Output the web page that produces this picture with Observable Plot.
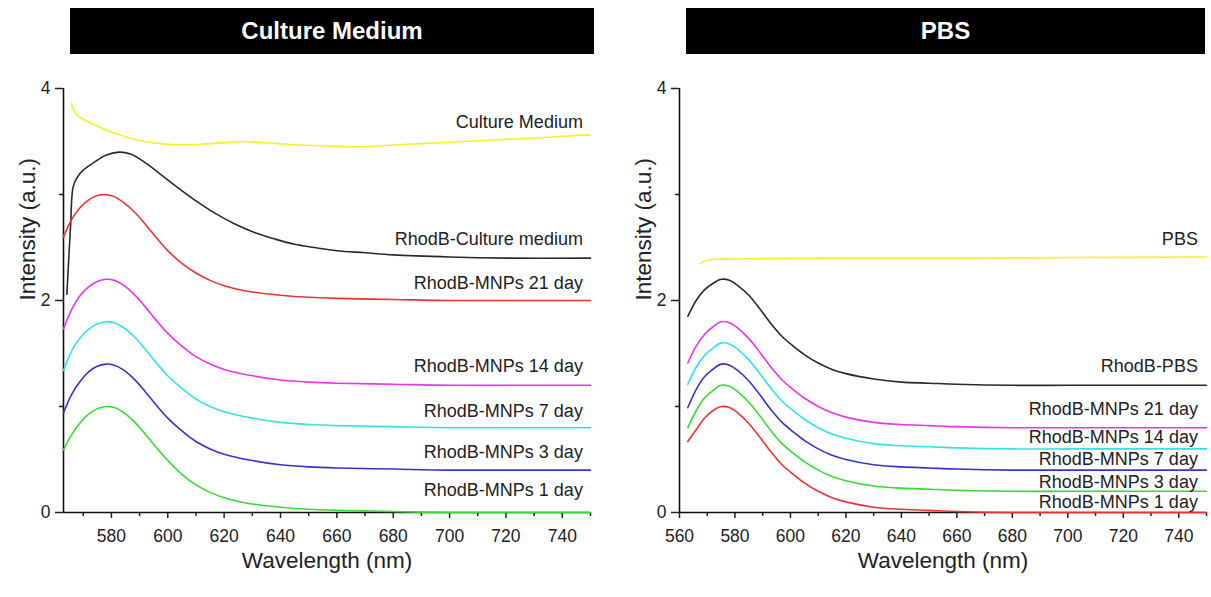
<!DOCTYPE html>
<html>
<head>
<meta charset="utf-8">
<script src="https://cdn.jsdelivr.net/npm/d3@7"></script>
<script src="https://cdn.jsdelivr.net/npm/@observablehq/plot@0.6"></script>
<style>
  html, body { margin: 0; padding: 0; background: #fff; }
  #wrap { position: relative; width: 1211px; height: 597px; font-family: "Liberation Sans", Arial, sans-serif; color: #222; }
  .bar { position: absolute; top: 8px; height: 46px; background: #000; color: #fff; font-weight: bold; font-size: 24px; line-height: 46px; text-align: center; }
  #left { position: absolute; left: 0; top: 0; }
  #right { position: absolute; left: 605px; top: 0; }
  g[aria-label$="tick label"], g[aria-label$="tick label"] text { font-size: 17.5px !important; }
</style>
</head>
<body>
<div id="wrap">
  <div id="left"></div>
  <div id="right"></div>
  <div class="bar" id="barL" style="left:70px;width:524px;"></div>
  <div class="bar" id="barR" style="left:686px;width:519px;"></div>
</div>
<script>
// ---------- Titles / axis texts ----------
const panelTitles = ["Culture Medium", "PBS"];
const xTitle = "Wavelength (nm)";
const yTitle = "Intensity (a.u.)";

// ---------- Ticks ----------
const xMajorL = [580, 600, 620, 640, 660, 680, 700, 720, 740];
const xMinorL = [570, 590, 610, 630, 650, 670, 690, 710, 730, 750];
const xMajorR = [560, 580, 600, 620, 640, 660, 680, 700, 720, 740];
const xMinorR = [570, 590, 610, 630, 650, 670, 690, 710, 730, 750];
const yMajor = [0, 2, 4];
const yMinor = [1, 3];
const xDomainL = [563, 750];
const xDomainR = [560, 750];
const yDomain = [0, 4];

// ---------- Left panel (Culture Medium) ----------
const wlL = [563, 566, 569, 572, 575, 578, 581, 584, 588, 592, 596, 600, 605, 610, 615, 620, 630, 640, 650, 660, 680, 700, 725, 750];
const mnp1L  = [0.59, 0.74, 0.85, 0.93, 0.98, 1.00, 0.99, 0.95, 0.86, 0.74, 0.61, 0.49, 0.36, 0.26, 0.19, 0.14, 0.08, 0.05, 0.03, 0.02, 0.01, 0.00, 0.00, 0.00];
const mnp3L  = [0.94, 1.12, 1.24, 1.33, 1.38, 1.40, 1.39, 1.35, 1.26, 1.14, 1.01, 0.89, 0.77, 0.67, 0.60, 0.55, 0.49, 0.45, 0.43, 0.42, 0.41, 0.40, 0.40, 0.40];
const mnp7L  = [1.34, 1.53, 1.65, 1.73, 1.78, 1.80, 1.79, 1.75, 1.66, 1.54, 1.41, 1.29, 1.17, 1.07, 1.00, 0.95, 0.89, 0.85, 0.83, 0.82, 0.81, 0.80, 0.80, 0.80];
const mnp14L = [1.73, 1.92, 2.05, 2.13, 2.18, 2.20, 2.19, 2.15, 2.06, 1.94, 1.81, 1.69, 1.57, 1.47, 1.40, 1.35, 1.29, 1.25, 1.23, 1.22, 1.21, 1.20, 1.20, 1.20];
const mnp21L = [2.60, 2.77, 2.88, 2.95, 2.99, 3.00, 2.98, 2.93, 2.84, 2.72, 2.59, 2.47, 2.35, 2.26, 2.19, 2.14, 2.08, 2.05, 2.03, 2.02, 2.01, 2.00, 2.00, 2.00];
const wlRhodCM = [564.2, 565.5, 566.4, 567.8, 570, 573.7, 578, 582.6, 587, 591.5, 597, 603.3, 610, 617, 624, 631, 638, 645, 652, 660, 670, 680, 700, 720, 750];
const rhodCM   = [2.06, 2.70, 3.07, 3.16, 3.23, 3.30, 3.37, 3.40, 3.38, 3.31, 3.20, 3.07, 2.94, 2.82, 2.72, 2.64, 2.58, 2.53, 2.50, 2.47, 2.45, 2.43, 2.41, 2.40, 2.40];
const wlCM = [565.7, 566.5, 567.2, 570, 573.7, 580, 585.6, 592, 597.4, 603, 609.2, 615, 621, 627, 633, 639, 645, 655, 668.5, 675.6, 690, 705, 720, 735, 746.7, 750];
const cm   = [3.86, 3.81, 3.77, 3.71, 3.66, 3.59, 3.54, 3.50, 3.48, 3.47, 3.47, 3.48, 3.49, 3.50, 3.49, 3.48, 3.47, 3.46, 3.45, 3.46, 3.48, 3.50, 3.52, 3.54, 3.56, 3.56];
const labelsL  = ["Culture Medium", "RhodB-Culture medium", "RhodB-MNPs 21 day", "RhodB-MNPs 14 day", "RhodB-MNPs 7 day", "RhodB-MNPs 3 day", "RhodB-MNPs 1 day"];
const labelYL  = [3.68, 2.58, 2.16, 1.38, 0.96, 0.57, 0.21];
const labelXL  = 747.3;

// ---------- Right panel (PBS) ----------
const wlR = [563, 566, 569, 572, 575, 578, 581, 585, 589, 593, 597, 601, 605, 610, 615, 620, 630, 640, 650, 660, 680, 700, 725, 750];
const mnp1R  = [0.67, 0.78, 0.89, 0.96, 1.00, 0.99, 0.94, 0.84, 0.71, 0.57, 0.45, 0.36, 0.28, 0.20, 0.14, 0.10, 0.05, 0.03, 0.02, 0.01, 0.00, 0.00, 0.00, 0.00];
const mnp3R  = [0.80, 0.96, 1.08, 1.15, 1.20, 1.19, 1.14, 1.04, 0.91, 0.77, 0.65, 0.56, 0.48, 0.40, 0.34, 0.30, 0.25, 0.23, 0.22, 0.21, 0.20, 0.20, 0.20, 0.20];
const mnp7R  = [0.99, 1.16, 1.28, 1.35, 1.40, 1.39, 1.34, 1.24, 1.11, 0.97, 0.85, 0.76, 0.68, 0.60, 0.54, 0.50, 0.45, 0.43, 0.42, 0.41, 0.40, 0.40, 0.40, 0.40];
const mnp14R = [1.21, 1.37, 1.48, 1.55, 1.60, 1.59, 1.54, 1.44, 1.31, 1.17, 1.05, 0.96, 0.88, 0.80, 0.74, 0.70, 0.65, 0.63, 0.62, 0.61, 0.60, 0.60, 0.60, 0.60];
const mnp21R = [1.41, 1.57, 1.68, 1.75, 1.80, 1.79, 1.74, 1.64, 1.51, 1.37, 1.25, 1.16, 1.08, 1.00, 0.94, 0.90, 0.85, 0.83, 0.82, 0.81, 0.80, 0.80, 0.80, 0.80];
const rhodPBS = [1.85, 2.00, 2.10, 2.16, 2.20, 2.19, 2.14, 2.05, 1.92, 1.78, 1.66, 1.57, 1.49, 1.41, 1.35, 1.31, 1.26, 1.23, 1.22, 1.21, 1.20, 1.20, 1.20, 1.20];
const wlPBS = [567.6, 569, 571, 575, 590, 620, 660, 700, 750];
const pbs   = [2.35, 2.37, 2.385, 2.39, 2.395, 2.40, 2.40, 2.405, 2.41];
const labelsR = ["PBS", "RhodB-PBS", "RhodB-MNPs 21 day", "RhodB-MNPs 14 day", "RhodB-MNPs 7 day", "RhodB-MNPs 3 day", "RhodB-MNPs 1 day"];
const labelYR = [2.58, 1.38, 0.97, 0.71, 0.50, 0.29, 0.10];
const labelXR = 746.9;

// ---------- Colours ----------
const C = { yellow: "#f2f224", black: "#2a2a2a", red: "#e93434", magenta: "#ec34ec", cyan: "#35e2e2", blue: "#3434cc", green: "#34dc34" };

const seriesL = [
  { wl: wlCM, v: cm, c: C.yellow },
  { wl: wlRhodCM, v: rhodCM, c: C.black },
  { wl: wlL, v: mnp21L, c: C.red },
  { wl: wlL, v: mnp14L, c: C.magenta },
  { wl: wlL, v: mnp7L, c: C.cyan },
  { wl: wlL, v: mnp3L, c: C.blue },
  { wl: wlL, v: mnp1L, c: C.green }
];
const seriesR = [
  { wl: wlPBS, v: pbs, c: C.yellow },
  { wl: wlR, v: rhodPBS, c: C.black },
  { wl: wlR, v: mnp21R, c: C.magenta },
  { wl: wlR, v: mnp14R, c: C.cyan },
  { wl: wlR, v: mnp7R, c: C.blue },
  { wl: wlR, v: mnp3R, c: C.green },
  { wl: wlR, v: mnp1R, c: C.red }
];

const font = "Liberation Sans, Arial, sans-serif";

function panel(opts) {
  const lineMarks = opts.series.map(s =>
    Plot.line(s.wl.map((w, i) => ({ x: w, y: s.v[i] })), {
      x: "x", y: "y", stroke: s.c, strokeWidth: 1.6, curve: "catmull-rom"
    })
  );
  const labelData = opts.labels.map((t, i) => ({ t, y: opts.labelY[i] }));
  return Plot.plot({
    width: opts.width, height: 597,
    marginTop: 88, marginBottom: 85, marginLeft: opts.ml, marginRight: opts.mr,
    style: { fontFamily: font, fontSize: "17.5px", color: "#222", background: "transparent", overflow: "visible" },
    x: { domain: opts.xDomain },
    y: { domain: yDomain },
    marks: [
      Plot.axisX({ ticks: opts.xMajor, tickSize: 6, tickPadding: 11, label: null, strokeWidth: 1.5, tickFormat: d => String(d) }),
      Plot.axisX({ ticks: opts.xMinor, tickSize: 4, label: null, strokeWidth: 1.5, tickFormat: () => "" }),
      Plot.axisY({ ticks: yMajor, tickSize: 8, tickPadding: 5, label: null, strokeWidth: 1.5, tickFormat: d => String(d) }),
      Plot.axisY({ ticks: yMinor, tickSize: 4, label: null, strokeWidth: 1.5, tickFormat: () => "" }),
      Plot.ruleX([opts.xDomain[0]], { stroke: "#111", strokeWidth: 1.6 }),
      Plot.ruleY([yDomain[0]], { stroke: "#111", strokeWidth: 1.6 }),
      ...lineMarks,
      Plot.text(labelData, { x: () => opts.labelX, y: "y", text: "t", textAnchor: "end", fontSize: 18, fill: "#222" }),
      Plot.text([xTitle], { text: d => d, frameAnchor: "bottom", dy: 55, fontSize: 22.5, fill: "#222" }),
      Plot.text([yTitle], { text: d => d, frameAnchor: "left", dx: -36, rotate: -90, fontSize: 22.5, fill: "#222" })
    ]
  });
}

document.getElementById("left").append(panel({
  width: 606, ml: 63, mr: 16, xDomain: xDomainL, xMajor: xMajorL, xMinor: xMinorL,
  series: seriesL, labels: labelsL, labelY: labelYL, labelX: labelXL
}));
document.getElementById("right").append(panel({
  width: 606, ml: 74, mr: 5, xDomain: xDomainR, xMajor: xMajorR, xMinor: xMinorR,
  series: seriesR, labels: labelsR, labelY: labelYR, labelX: labelXR
}));
document.getElementById("barL").textContent = panelTitles[0];
document.getElementById("barR").textContent = panelTitles[1];
</script>
</body>
</html>
